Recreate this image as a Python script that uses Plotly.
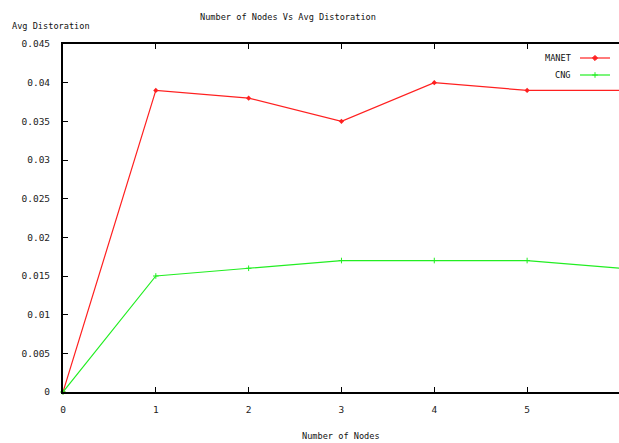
import plotly.graph_objects as go

nodes = [0, 1, 2, 3, 4, 5, 6]
manet = [0, 0.039, 0.038, 0.035, 0.040, 0.039, 0.039]
cng = [0, 0.015, 0.016, 0.017, 0.017, 0.017, 0.016]
x_ticks = [0, 1, 2, 3, 4, 5]
y_ticks = [0, 0.005, 0.01, 0.015, 0.02, 0.025, 0.03, 0.035, 0.04, 0.045]
y_labels = ["0", "0.005", "0.01", "0.015", "0.02", "0.025", "0.03", "0.035", "0.04", "0.045"]

RED = "#ff2020"
GREEN = "#22ee22"
font = dict(family="DejaVu Sans Mono", size=8.6, color="#111")
tfont = dict(family="DejaVu Sans Mono", size=9.5, color="#222")

L, R, T, B = 63, 0, 44, 51
PW, PH = 619 - L - R, 443 - T - B


def px(x):
    return (x - L) / PW


def py(y):
    return (443 - B - y) / PH


fig = go.Figure()
fig.add_trace(go.Scatter(x=nodes, y=manet, mode="lines+markers", name="MANET",
                         line=dict(color=RED, width=1.2),
                         marker=dict(symbol="diamond", size=4, color=RED),
                         cliponaxis=False))
fig.add_trace(go.Scatter(x=nodes, y=cng, mode="lines+markers", name="CNG",
                         line=dict(color=GREEN, width=1.2),
                         marker=dict(symbol="cross-thin", size=4,
                                     line=dict(color=GREEN, width=1), color=GREEN),
                         cliponaxis=False))

fig.update_layout(
    width=619, height=443,
    margin=dict(l=L, r=R, t=T, b=B),
    plot_bgcolor="white", paper_bgcolor="white",
    font=font,
    showlegend=False,
    xaxis=dict(range=[0, 5.99], tickvals=x_ticks, ticktext=[str(v) for v in x_ticks],
               ticks="inside", ticklen=5, tickcolor="black", showgrid=False,
               showline=True, linecolor="black", linewidth=2, mirror="ticks",
               zeroline=False, tickfont=tfont, ticklabelstandoff=8),
    yaxis=dict(range=[0, 0.045], tickvals=y_ticks, ticktext=y_labels,
               ticks="inside", ticklen=5, tickcolor="black", showgrid=False,
               showline=True, linecolor="black", linewidth=2, mirror=False,
               zeroline=False, tickfont=tfont, ticklabelstandoff=9),
)

texts = [
    ("Number of Nodes Vs Avg Distoration", 288, 17, "center"),
    ("Avg Distoration", 10, 26, "left"),
    ("Number of Nodes", 341, 436, "center"),
]
for txt, x, y, anchor in texts:
    fig.add_annotation(text=txt, x=px(x), y=py(y), xref="paper", yref="paper",
                       showarrow=False, font=font, xanchor=anchor, yanchor="middle")

legend_items = [("MANET", RED, "diamond", 4, 58), ("CNG", GREEN, "cross-thin", 4, 75)]
for name, color, sym, size, y in legend_items:
    yp = py(y)
    fig.add_annotation(text=name, x=px(573), y=yp, xref="paper", yref="paper",
                       showarrow=False, font=font, xanchor="right", yanchor="middle")
    fig.add_shape(type="line", xref="paper", yref="paper",
                  x0=px(580), x1=px(610), y0=yp, y1=yp,
                  line=dict(color=color, width=1.2))
    fig.add_trace(go.Scatter(x=[px(595) * 5.99], y=[yp * 0.045], mode="markers",
                             marker=dict(symbol=sym, size=size, color=color,
                                         line=dict(color=color, width=1)),
                             showlegend=False, hoverinfo="skip", cliponaxis=False))

fig.write_html("out.html")
